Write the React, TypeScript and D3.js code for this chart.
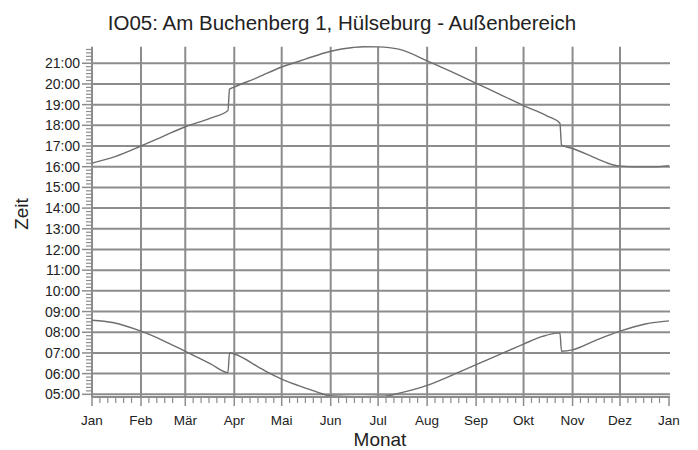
import React from "react";
import * as d3 from "d3";

const W = 698;
const H = 450;

const title = "IO05: Am Buchenberg 1, Hülseburg - Außenbereich";
const xTitle = "Monat";
const yTitle = "Zeit";

const monthLabels = ["Jan", "Feb", "Mär", "Apr", "Mai", "Jun", "Jul", "Aug", "Sep", "Okt", "Nov", "Dez", "Jan"];
const monthStarts = [0, 31, 59, 90, 120, 151, 181, 212, 243, 273, 304, 334, 365];
const hourTicks = [5, 6, 7, 8, 9, 10, 11, 12, 13, 14, 15, 16, 17, 18, 19, 20, 21];

// Day of year and hour (decimal)
const sunsetDays = [0, 15, 31, 45, 59, 75, 86, 87, 90, 105, 120, 127, 135, 151, 165, 172, 181, 194, 212, 228, 243, 258, 273, 288, 296, 297, 304, 319, 330, 334, 345, 355, 365];
const sunsetHours = [16.17, 16.5, 17.0, 17.47, 17.93, 18.35, 18.72, 19.75, 19.85, 20.32, 20.82, 21.0, 21.2, 21.58, 21.76, 21.8, 21.79, 21.68, 21.12, 20.57, 20.03, 19.5, 18.95, 18.45, 18.1, 17.05, 16.88, 16.4, 16.08, 16.03, 15.99, 15.99, 16.05];

const sunriseDays = [0, 13, 31, 45, 59, 75, 86, 87, 90, 105, 111, 120, 135, 145, 150, 160, 172, 185, 193, 212, 228, 243, 258, 273, 285, 296, 297, 304, 319, 334, 350, 365];
const sunriseHours = [8.58, 8.47, 8.05, 7.6, 7.08, 6.47, 6.05, 7.0, 6.95, 6.33, 6.07, 5.73, 5.3, 5.04, 4.93, 4.9, 4.89, 4.91, 5.03, 5.43, 5.93, 6.43, 6.93, 7.43, 7.8, 7.97, 7.08, 7.15, 7.62, 8.05, 8.4, 8.55];

const pad = (n: number) => (n < 10 ? "0" + n : "" + n);

export default function App() {
  const x = d3.scaleLinear().domain([0, 365]).range([92, 669]);
  const y = d3.scaleLinear().domain([4.87, 21.8]).range([397, 46.7]);
  const [x0, x1] = [92, 670];
  const yTop = y(21.8);
  const yBot = y(4.87);

  const minorX: number[] = [];
  for (let m = 0; m < 12; m++) {
    const s = monthStarts[m];
    const e = monthStarts[m + 1];
    for (let d = 5; s + d < e - 3; d += 5) minorX.push(s + d);
  }
  const minorY: number[] = [];
  for (let h = 5; h < 21.8; h += 1) {
    for (let k = 1; k < 6; k++) {
      const v = h + k / 6;
      if (v <= 21.8) minorY.push(v);
    }
  }

  const mk = (days: number[], hours: number[]) =>
    d3
      .line<number>()
      .x((d) => x(d))
      .y((_, i) => y(hours[i]))
      .curve(d3.curveMonotoneX)(days) || "";

  const grid = "#8c8c8c";
  const font = "'Liberation Sans', Arial, sans-serif";

  return (
    <div style={{ position: "absolute", left: 0, top: 0 }}>
      <svg width={W} height={H} style={{ display: "block", background: "#fff" }} fontFamily={font}>
        <defs>
          <clipPath id="plot">
            <rect x={x0} y={yTop - 2} width={x1 - x0} height={yBot - yTop + 1} />
          </clipPath>
        </defs>
        <text x={342} y={30} textAnchor="middle" fontSize={20.5} fill="#222">
          {title}
        </text>
        {hourTicks.map((h) => (
          <line key={"h" + h} x1={x0} x2={x1} y1={y(h)} y2={y(h)} stroke={grid} strokeWidth={2} />
        ))}
        {monthStarts.slice(1, 12).map((d) => (
          <line key={"v" + d} x1={x(d)} x2={x(d)} y1={yTop} y2={yBot} stroke={grid} strokeWidth={2} />
        ))}
        <line x1={x0} x2={x0} y1={yTop} y2={yBot} stroke={grid} strokeWidth={2} />
        <line x1={x0} x2={x1} y1={yBot} y2={yBot} stroke={grid} strokeWidth={2} />
        {hourTicks.map((h) => (
          <line key={"yt" + h} x1={82} x2={x0} y1={y(h)} y2={y(h)} stroke={grid} strokeWidth={1.5} />
        ))}
        {minorY.map((h, i) => (
          <line key={"ym" + i} x1={86} x2={x0} y1={y(h)} y2={y(h)} stroke={grid} strokeWidth={1.2} />
        ))}
        {monthStarts.map((d, i) => (
          <line key={"xt" + i} x1={x(d)} x2={x(d)} y1={yBot} y2={yBot + 9} stroke={grid} strokeWidth={1.5} />
        ))}
        {minorX.map((d, i) => (
          <line key={"xm" + i} x1={x(d)} x2={x(d)} y1={yBot} y2={yBot + 6} stroke={grid} strokeWidth={1.2} />
        ))}
        <g clipPath="url(#plot)">
          <path d={mk(sunsetDays, sunsetHours)} fill="none" stroke="#6e6e6e" strokeWidth={1.4} />
          <path d={mk(sunriseDays, sunriseHours)} fill="none" stroke="#6e6e6e" strokeWidth={1.4} />
        </g>
        {hourTicks.map((h) => (
          <text key={"yl" + h} x={80} y={y(h)} dy="0.36em" textAnchor="end" fontSize={14} fill="#222">
            {pad(h) + ":00"}
          </text>
        ))}
        {monthStarts.map((d, i) => (
          <text key={"xl" + i} x={x(d)} y={425} textAnchor="middle" fontSize={13.5} fill="#222">
            {monthLabels[i]}
          </text>
        ))}
        <text x={380} y={446} textAnchor="middle" fontSize={19} fill="#222">
          {xTitle}
        </text>
        <text transform="translate(28,214) rotate(-90)" textAnchor="middle" fontSize={19} fill="#222">
          {yTitle}
        </text>
      </svg>
    </div>
  );
}
